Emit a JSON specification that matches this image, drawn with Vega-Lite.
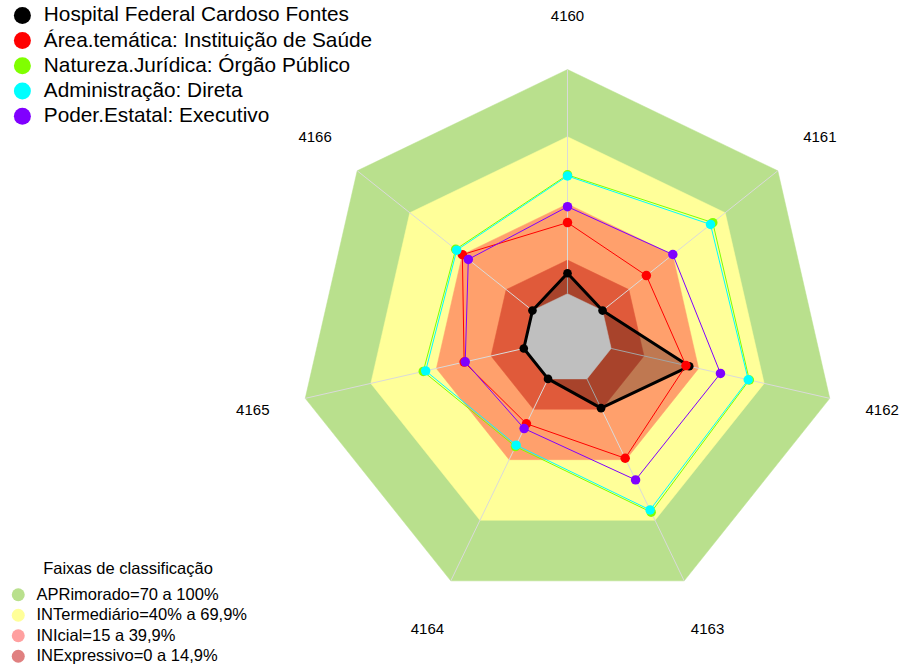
{
  "$schema": "https://vega.github.io/schema/vega-lite/v6.json",
  "width": 901,
  "height": 666,
  "autosize": {"type": "fit", "contains": "padding"},
  "padding": 0,
  "background": "white",
  "config": {"view": {"stroke": null}, "font": "Liberation Sans"},
  "datasets": {
    "eixos": [
      {"k": 0, "eixo": "4160"}, {"k": 1, "eixo": "4161"}, {"k": 2, "eixo": "4162"},
      {"k": 3, "eixo": "4163"}, {"k": 4, "eixo": "4164"}, {"k": 5, "eixo": "4165"}, {"k": 6, "eixo": "4166"}
    ],
    "faixas": [
      {"nivel": "APR", "v": 100, "k": 0}, {"nivel": "APR", "v": 100, "k": 1}, {"nivel": "APR", "v": 100, "k": 2}, {"nivel": "APR", "v": 100, "k": 3}, {"nivel": "APR", "v": 100, "k": 4}, {"nivel": "APR", "v": 100, "k": 5}, {"nivel": "APR", "v": 100, "k": 6},
      {"nivel": "INT", "v": 70, "k": 0}, {"nivel": "INT", "v": 70, "k": 1}, {"nivel": "INT", "v": 70, "k": 2}, {"nivel": "INT", "v": 70, "k": 3}, {"nivel": "INT", "v": 70, "k": 4}, {"nivel": "INT", "v": 70, "k": 5}, {"nivel": "INT", "v": 70, "k": 6},
      {"nivel": "INI", "v": 40, "k": 0}, {"nivel": "INI", "v": 40, "k": 1}, {"nivel": "INI", "v": 40, "k": 2}, {"nivel": "INI", "v": 40, "k": 3}, {"nivel": "INI", "v": 40, "k": 4}, {"nivel": "INI", "v": 40, "k": 5}, {"nivel": "INI", "v": 40, "k": 6},
      {"nivel": "INE", "v": 15, "k": 0}, {"nivel": "INE", "v": 15, "k": 1}, {"nivel": "INE", "v": 15, "k": 2}, {"nivel": "INE", "v": 15, "k": 3}, {"nivel": "INE", "v": 15, "k": 4}, {"nivel": "INE", "v": 15, "k": 5}, {"nivel": "INE", "v": 15, "k": 6},
      {"nivel": "centro", "v": 0, "k": 0}, {"nivel": "centro", "v": 0, "k": 1}, {"nivel": "centro", "v": 0, "k": 2}, {"nivel": "centro", "v": 0, "k": 3}, {"nivel": "centro", "v": 0, "k": 4}, {"nivel": "centro", "v": 0, "k": 5}, {"nivel": "centro", "v": 0, "k": 6}
    ],
    "legenda": [
      {"faixa": "APRimorado=70 a 100%"},
      {"faixa": "INTermediário=40% a 69,9%"},
      {"faixa": "INIcial=15 a 39,9%"},
      {"faixa": "INExpressivo=0 a 14,9%"}
    ],
    "series": [
      {"s": "Hospital Federal Cardoso Fontes", "k": 0, "v": 9.1},
      {"s": "Hospital Federal Cardoso Fontes", "k": 1, "v": 0},
      {"s": "Hospital Federal Cardoso Fontes", "k": 2, "v": 35.7},
      {"s": "Hospital Federal Cardoso Fontes", "k": 3, "v": 14.5},
      {"s": "Hospital Federal Cardoso Fontes", "k": 4, "v": 0},
      {"s": "Hospital Federal Cardoso Fontes", "k": 5, "v": 0},
      {"s": "Hospital Federal Cardoso Fontes", "k": 6, "v": 0},
      {"s": "Área.temática: Instituição de Saúde", "k": 0, "v": 31.7},
      {"s": "Área.temática: Instituição de Saúde", "k": 1, "v": 25},
      {"s": "Área.temática: Instituição de Saúde", "k": 2, "v": 34.2},
      {"s": "Área.temática: Instituição de Saúde", "k": 3, "v": 39.3},
      {"s": "Área.temática: Instituição de Saúde", "k": 4, "v": 22.2},
      {"s": "Área.temática: Instituição de Saúde", "k": 5, "v": 27.3},
      {"s": "Área.temática: Instituição de Saúde", "k": 6, "v": 40},
      {"s": "Natureza.Jurídica: Órgão Público", "k": 0, "v": 53},
      {"s": "Natureza.Jurídica: Órgão Público", "k": 1, "v": 62.9},
      {"s": "Natureza.Jurídica: Órgão Público", "k": 2, "v": 63.2},
      {"s": "Natureza.Jurídica: Órgão Público", "k": 3, "v": 66},
      {"s": "Natureza.Jurídica: Órgão Público", "k": 4, "v": 33.5},
      {"s": "Natureza.Jurídica: Órgão Público", "k": 5, "v": 46},
      {"s": "Natureza.Jurídica: Órgão Público", "k": 6, "v": 43.8},
      {"s": "Administração: Direta", "k": 0, "v": 52.5},
      {"s": "Administração: Direta", "k": 1, "v": 61.6},
      {"s": "Administração: Direta", "k": 2, "v": 62.7},
      {"s": "Administração: Direta", "k": 3, "v": 64.9},
      {"s": "Administração: Direta", "k": 4, "v": 32.8},
      {"s": "Administração: Direta", "k": 5, "v": 44.9},
      {"s": "Administração: Direta", "k": 6, "v": 43.2},
      {"s": "Poder.Estatal: Executivo", "k": 0, "v": 38.8},
      {"s": "Poder.Estatal: Executivo", "k": 1, "v": 40.1},
      {"s": "Poder.Estatal: Executivo", "k": 2, "v": 50},
      {"s": "Poder.Estatal: Executivo", "k": 3, "v": 50},
      {"s": "Poder.Estatal: Executivo", "k": 4, "v": 24.6},
      {"s": "Poder.Estatal: Executivo", "k": 5, "v": 26.8},
      {"s": "Poder.Estatal: Executivo", "k": 6, "v": 36.6}
    ]
  },
  "layer": [
    {
      "data": {"name": "legenda"},
      "mark": {"type": "circle", "opacity": 0},
      "encoding": {
        "fill": {
          "field": "faixa", "type": "nominal",
          "scale": {"domain": ["APRimorado=70 a 100%", "INTermediário=40% a 69,9%", "INIcial=15 a 39,9%", "INExpressivo=0 a 14,9%"],
                    "range": ["#B9E08D", "#FFFF99", "#FFA0A0", "#E08080"]},
          "legend": {
            "title": "Faixas de classificação", "orient": "none", "legendX": 10, "legendY": 561,
            "titleFontSize": 16.5, "titleFontWeight": "normal", "titleFont": "Liberation Sans", "titleColor": "black",
            "titleAnchor": "middle", "titlePadding": 9,
            "symbolType": "circle", "symbolSize": 169, "symbolOpacity": 1, "symbolStrokeWidth": 0,
            "labelFontSize": 16.5, "labelFont": "Liberation Sans", "labelColor": "black", "labelOffset": 10,
            "rowPadding": 3.5, "labelLimit": 400, "padding": 0
          }
        }
      }
    },
    {
      "data": {"name": "faixas"},
      "transform": [
        {"filter": "datum.nivel == 'APR'"},
        {"calculate": "(5*datum.v/100+1)/6", "as": "r"},
        {"calculate": "datum.r*sin(2*PI*datum.k/7)", "as": "x"},
        {"calculate": "datum.r*cos(2*PI*datum.k/7)", "as": "y"}
      ],
      "mark": {"type": "line", "interpolate": "linear-closed", "fill": "#B9E08D", "stroke": "#B9E08D", "strokeWidth": 0.5},
      "encoding": {
        "x": {"field": "x", "type": "quantitative", "scale": {"domain": [-2.10967, 1.23978], "nice": false, "zero": false}, "axis": null},
        "y": {"field": "y", "type": "quantitative", "scale": {"domain": [-1.21747, 1.25836], "nice": false, "zero": false}, "axis": null},
        "order": {"field": "k", "type": "quantitative"}
      }
    },
    {
      "data": {"name": "faixas"},
      "transform": [
        {"filter": "datum.nivel == 'INT'"},
        {"calculate": "(5*datum.v/100+1)/6", "as": "r"},
        {"calculate": "datum.r*sin(2*PI*datum.k/7)", "as": "x"},
        {"calculate": "datum.r*cos(2*PI*datum.k/7)", "as": "y"}
      ],
      "mark": {"type": "line", "interpolate": "linear-closed", "fill": "#FFFF99", "stroke": "#FFFF99", "strokeWidth": 0.5},
      "encoding": {
        "x": {"field": "x", "type": "quantitative", "scale": {"domain": [-2.10967, 1.23978], "nice": false, "zero": false}, "axis": null},
        "y": {"field": "y", "type": "quantitative", "scale": {"domain": [-1.21747, 1.25836], "nice": false, "zero": false}, "axis": null},
        "order": {"field": "k", "type": "quantitative"}
      }
    },
    {
      "data": {"name": "faixas"},
      "transform": [
        {"filter": "datum.nivel == 'INI'"},
        {"calculate": "(5*datum.v/100+1)/6", "as": "r"},
        {"calculate": "datum.r*sin(2*PI*datum.k/7)", "as": "x"},
        {"calculate": "datum.r*cos(2*PI*datum.k/7)", "as": "y"}
      ],
      "mark": {"type": "line", "interpolate": "linear-closed", "fill": "#FFA06C", "stroke": "#FFA06C", "strokeWidth": 0.5},
      "encoding": {
        "x": {"field": "x", "type": "quantitative", "scale": {"domain": [-2.10967, 1.23978], "nice": false, "zero": false}, "axis": null},
        "y": {"field": "y", "type": "quantitative", "scale": {"domain": [-1.21747, 1.25836], "nice": false, "zero": false}, "axis": null},
        "order": {"field": "k", "type": "quantitative"}
      }
    },
    {
      "data": {"name": "faixas"},
      "transform": [
        {"filter": "datum.nivel == 'INE'"},
        {"calculate": "(5*datum.v/100+1)/6", "as": "r"},
        {"calculate": "datum.r*sin(2*PI*datum.k/7)", "as": "x"},
        {"calculate": "datum.r*cos(2*PI*datum.k/7)", "as": "y"}
      ],
      "mark": {"type": "line", "interpolate": "linear-closed", "fill": "#E05A3A", "stroke": "#E05A3A", "strokeWidth": 0.5},
      "encoding": {
        "x": {"field": "x", "type": "quantitative", "scale": {"domain": [-2.10967, 1.23978], "nice": false, "zero": false}, "axis": null},
        "y": {"field": "y", "type": "quantitative", "scale": {"domain": [-1.21747, 1.25836], "nice": false, "zero": false}, "axis": null},
        "order": {"field": "k", "type": "quantitative"}
      }
    },
    {
      "data": {"name": "faixas"},
      "transform": [
        {"filter": "datum.nivel == 'centro'"},
        {"calculate": "(5*datum.v/100+1)/6", "as": "r"},
        {"calculate": "datum.r*sin(2*PI*datum.k/7)", "as": "x"},
        {"calculate": "datum.r*cos(2*PI*datum.k/7)", "as": "y"}
      ],
      "mark": {"type": "line", "interpolate": "linear-closed", "fill": "#FFFFFF", "stroke": "#FFFFFF", "strokeWidth": 0.5},
      "encoding": {
        "x": {"field": "x", "type": "quantitative", "scale": {"domain": [-2.10967, 1.23978], "nice": false, "zero": false}, "axis": null},
        "y": {"field": "y", "type": "quantitative", "scale": {"domain": [-1.21747, 1.25836], "nice": false, "zero": false}, "axis": null},
        "order": {"field": "k", "type": "quantitative"}
      }
    },
    {
      "data": {"name": "eixos"},
      "transform": [
        {"calculate": "sin(2*PI*datum.k/7)/6", "as": "x0"},
        {"calculate": "cos(2*PI*datum.k/7)/6", "as": "y0"},
        {"calculate": "sin(2*PI*datum.k/7)", "as": "x1"},
        {"calculate": "cos(2*PI*datum.k/7)", "as": "y1"}
      ],
      "mark": {"type": "rule", "color": "#DADADA", "strokeWidth": 1},
      "encoding": {
        "x": {"field": "x0", "type": "quantitative", "scale": {"domain": [-2.10967, 1.23978], "nice": false, "zero": false}, "axis": null},
        "y": {"field": "y0", "type": "quantitative", "scale": {"domain": [-1.21747, 1.25836], "nice": false, "zero": false}, "axis": null},
        "x2": {"field": "x1"},
        "y2": {"field": "y1"}
      }
    },
    {
      "data": {"name": "eixos"},
      "transform": [
        {"calculate": "1.2*sin(2*PI*datum.k/7)", "as": "lx"},
        {"calculate": "1.2*cos(2*PI*datum.k/7)", "as": "ly"}
      ],
      "mark": {"type": "text", "fontSize": 15, "font": "Liberation Sans", "color": "black", "align": "center", "baseline": "middle"},
      "encoding": {
        "x": {"field": "lx", "type": "quantitative", "scale": {"domain": [-2.10967, 1.23978], "nice": false, "zero": false}, "axis": null},
        "y": {"field": "ly", "type": "quantitative", "scale": {"domain": [-1.21747, 1.25836], "nice": false, "zero": false}, "axis": null},
        "text": {"field": "eixo"}
      }
    },
    {
      "data": {"name": "series"},
      "transform": [
        {"filter": "datum.s == 'Hospital Federal Cardoso Fontes'"},
        {"calculate": "(5*datum.v/100+1)/6", "as": "r"},
        {"calculate": "datum.r*sin(2*PI*datum.k/7)", "as": "x"},
        {"calculate": "datum.r*cos(2*PI*datum.k/7)", "as": "y"}
      ],
      "mark": {"type": "line", "interpolate": "linear-closed", "fill": "black", "fillOpacity": 0.25, "stroke": "black", "strokeWidth": 3, "strokeJoin": "round"},
      "encoding": {
        "x": {"field": "x", "type": "quantitative", "scale": {"domain": [-2.10967, 1.23978], "nice": false, "zero": false}, "axis": null},
        "y": {"field": "y", "type": "quantitative", "scale": {"domain": [-1.21747, 1.25836], "nice": false, "zero": false}, "axis": null},
        "order": {"field": "k", "type": "quantitative"}
      }
    },
    {
      "data": {"name": "series"},
      "transform": [
        {"filter": "datum.s != 'Hospital Federal Cardoso Fontes'"},
        {"calculate": "(5*datum.v/100+1)/6", "as": "r"},
        {"calculate": "datum.r*sin(2*PI*datum.k/7)", "as": "x"},
        {"calculate": "datum.r*cos(2*PI*datum.k/7)", "as": "y"}
      ],
      "mark": {"type": "line", "interpolate": "linear-closed", "strokeWidth": 1},
      "encoding": {
        "x": {"field": "x", "type": "quantitative", "scale": {"domain": [-2.10967, 1.23978], "nice": false, "zero": false}, "axis": null},
        "y": {"field": "y", "type": "quantitative", "scale": {"domain": [-1.21747, 1.25836], "nice": false, "zero": false}, "axis": null},
        "order": {"field": "k", "type": "quantitative"},
        "color": {
          "field": "s", "type": "nominal",
          "scale": {"domain": ["Hospital Federal Cardoso Fontes", "Área.temática: Instituição de Saúde", "Natureza.Jurídica: Órgão Público", "Administração: Direta", "Poder.Estatal: Executivo"],
                    "range": ["#000000", "#FF0000", "#80FF00", "#00FFFF", "#8000FF"]},
          "legend": {
            "title": null, "orient": "none", "legendX": 12, "legendY": 5,
            "symbolType": "circle", "symbolSize": 289, "symbolStrokeWidth": 0, "symbolOpacity": 1,
            "labelFontSize": 20.8, "labelFont": "Liberation Sans", "labelColor": "black", "labelOffset": 11,
            "rowPadding": 3.2, "labelLimit": 500, "padding": 0,
            "encode": {"symbols": {"update": {"fill": {"signal": "scale('color', datum.value)"}, "strokeWidth": {"value": 0}}}}
          }
        }
      }
    },
    {
      "data": {"name": "series"},
      "transform": [
        {"calculate": "(5*datum.v/100+1)/6", "as": "r"},
        {"calculate": "datum.r*sin(2*PI*datum.k/7)", "as": "x"},
        {"calculate": "datum.r*cos(2*PI*datum.k/7)", "as": "y"}
      ],
      "mark": {"type": "circle", "opacity": 1},
      "encoding": {
        "x": {"field": "x", "type": "quantitative", "scale": {"domain": [-2.10967, 1.23978], "nice": false, "zero": false}, "axis": null},
        "y": {"field": "y", "type": "quantitative", "scale": {"domain": [-1.21747, 1.25836], "nice": false, "zero": false}, "axis": null},
        "size": {"condition": {"test": "datum.s == 'Hospital Federal Cardoso Fontes'", "value": 75}, "value": 90},
        "color": {
          "field": "s", "type": "nominal",
          "scale": {"domain": ["Hospital Federal Cardoso Fontes", "Área.temática: Instituição de Saúde", "Natureza.Jurídica: Órgão Público", "Administração: Direta", "Poder.Estatal: Executivo"],
                    "range": ["#000000", "#FF0000", "#80FF00", "#00FFFF", "#8000FF"]},
          "legend": {
            "title": null, "orient": "none", "legendX": 12, "legendY": 5,
            "symbolType": "circle", "symbolSize": 289, "symbolStrokeWidth": 0, "symbolOpacity": 1,
            "labelFontSize": 20.8, "labelFont": "Liberation Sans", "labelColor": "black", "labelOffset": 11,
            "rowPadding": 3.2, "labelLimit": 500, "padding": 0,
            "encode": {"symbols": {"update": {"fill": {"signal": "scale('color', datum.value)"}, "strokeWidth": {"value": 0}}}}
          }
        }
      }
    }
  ]
}
